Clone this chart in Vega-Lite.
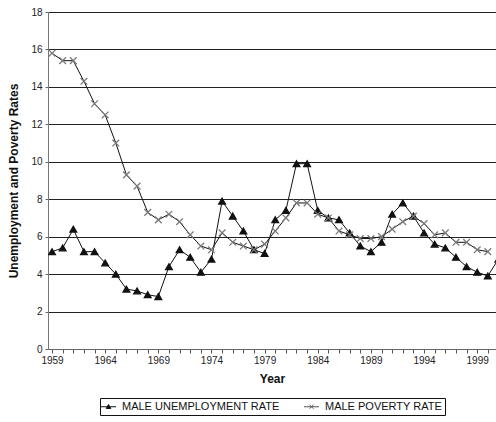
{
  "$schema": "https://vega.github.io/schema/vega-lite/v6.json",
  "width": 448,
  "height": 337,
  "autosize": {"type": "none"},
  "padding": {"left": 48, "top": 12, "right": 0, "bottom": 73},
  "background": "white",
  "config": {
    "view": {"stroke": null},
    "font": "Liberation Sans",
    "axis": {"labelFont": "Liberation Sans", "titleFont": "Liberation Sans", "labelColor": "#222", "titleColor": "#111"},
    "legend": {
      "orient": "none",
      "legendX": 52,
      "legendY": 386,
      "direction": "horizontal",
      "strokeColor": "#111",
      "padding": 3,
      "columnPadding": 22,
      "symbolSize": 100,
      "symbolStrokeWidth": 1,
      "labelOffset": 8,
      "labelFontSize": 11,
      "labelColor": "#111",
      "labelFont": "Liberation Sans"
    }
  },
  "data": {
    "values": [
      {"year": 1959, "series": "MALE UNEMPLOYMENT RATE", "rate": 5.2},
      {"year": 1960, "series": "MALE UNEMPLOYMENT RATE", "rate": 5.4},
      {"year": 1961, "series": "MALE UNEMPLOYMENT RATE", "rate": 6.4},
      {"year": 1962, "series": "MALE UNEMPLOYMENT RATE", "rate": 5.2},
      {"year": 1963, "series": "MALE UNEMPLOYMENT RATE", "rate": 5.2},
      {"year": 1964, "series": "MALE UNEMPLOYMENT RATE", "rate": 4.6},
      {"year": 1965, "series": "MALE UNEMPLOYMENT RATE", "rate": 4.0},
      {"year": 1966, "series": "MALE UNEMPLOYMENT RATE", "rate": 3.2},
      {"year": 1967, "series": "MALE UNEMPLOYMENT RATE", "rate": 3.1},
      {"year": 1968, "series": "MALE UNEMPLOYMENT RATE", "rate": 2.9},
      {"year": 1969, "series": "MALE UNEMPLOYMENT RATE", "rate": 2.8},
      {"year": 1970, "series": "MALE UNEMPLOYMENT RATE", "rate": 4.4},
      {"year": 1971, "series": "MALE UNEMPLOYMENT RATE", "rate": 5.3},
      {"year": 1972, "series": "MALE UNEMPLOYMENT RATE", "rate": 4.9},
      {"year": 1973, "series": "MALE UNEMPLOYMENT RATE", "rate": 4.1},
      {"year": 1974, "series": "MALE UNEMPLOYMENT RATE", "rate": 4.8},
      {"year": 1975, "series": "MALE UNEMPLOYMENT RATE", "rate": 7.9},
      {"year": 1976, "series": "MALE UNEMPLOYMENT RATE", "rate": 7.1},
      {"year": 1977, "series": "MALE UNEMPLOYMENT RATE", "rate": 6.3},
      {"year": 1978, "series": "MALE UNEMPLOYMENT RATE", "rate": 5.3},
      {"year": 1979, "series": "MALE UNEMPLOYMENT RATE", "rate": 5.1},
      {"year": 1980, "series": "MALE UNEMPLOYMENT RATE", "rate": 6.9},
      {"year": 1981, "series": "MALE UNEMPLOYMENT RATE", "rate": 7.4},
      {"year": 1982, "series": "MALE UNEMPLOYMENT RATE", "rate": 9.9},
      {"year": 1983, "series": "MALE UNEMPLOYMENT RATE", "rate": 9.9},
      {"year": 1984, "series": "MALE UNEMPLOYMENT RATE", "rate": 7.4},
      {"year": 1985, "series": "MALE UNEMPLOYMENT RATE", "rate": 7.0},
      {"year": 1986, "series": "MALE UNEMPLOYMENT RATE", "rate": 6.9},
      {"year": 1987, "series": "MALE UNEMPLOYMENT RATE", "rate": 6.2},
      {"year": 1988, "series": "MALE UNEMPLOYMENT RATE", "rate": 5.5},
      {"year": 1989, "series": "MALE UNEMPLOYMENT RATE", "rate": 5.2},
      {"year": 1990, "series": "MALE UNEMPLOYMENT RATE", "rate": 5.7},
      {"year": 1991, "series": "MALE UNEMPLOYMENT RATE", "rate": 7.2},
      {"year": 1992, "series": "MALE UNEMPLOYMENT RATE", "rate": 7.8},
      {"year": 1993, "series": "MALE UNEMPLOYMENT RATE", "rate": 7.1},
      {"year": 1994, "series": "MALE UNEMPLOYMENT RATE", "rate": 6.2},
      {"year": 1995, "series": "MALE UNEMPLOYMENT RATE", "rate": 5.6},
      {"year": 1996, "series": "MALE UNEMPLOYMENT RATE", "rate": 5.4},
      {"year": 1997, "series": "MALE UNEMPLOYMENT RATE", "rate": 4.9},
      {"year": 1998, "series": "MALE UNEMPLOYMENT RATE", "rate": 4.4},
      {"year": 1999, "series": "MALE UNEMPLOYMENT RATE", "rate": 4.1},
      {"year": 2000, "series": "MALE UNEMPLOYMENT RATE", "rate": 3.9},
      {"year": 2001, "series": "MALE UNEMPLOYMENT RATE", "rate": 4.8},
      {"year": 1959, "series": "MALE POVERTY RATE", "rate": 15.8},
      {"year": 1960, "series": "MALE POVERTY RATE", "rate": 15.4},
      {"year": 1961, "series": "MALE POVERTY RATE", "rate": 15.4},
      {"year": 1962, "series": "MALE POVERTY RATE", "rate": 14.3},
      {"year": 1963, "series": "MALE POVERTY RATE", "rate": 13.1},
      {"year": 1964, "series": "MALE POVERTY RATE", "rate": 12.5},
      {"year": 1965, "series": "MALE POVERTY RATE", "rate": 11.0},
      {"year": 1966, "series": "MALE POVERTY RATE", "rate": 9.3},
      {"year": 1967, "series": "MALE POVERTY RATE", "rate": 8.7},
      {"year": 1968, "series": "MALE POVERTY RATE", "rate": 7.3},
      {"year": 1969, "series": "MALE POVERTY RATE", "rate": 6.9},
      {"year": 1970, "series": "MALE POVERTY RATE", "rate": 7.2},
      {"year": 1971, "series": "MALE POVERTY RATE", "rate": 6.8},
      {"year": 1972, "series": "MALE POVERTY RATE", "rate": 6.1},
      {"year": 1973, "series": "MALE POVERTY RATE", "rate": 5.5},
      {"year": 1974, "series": "MALE POVERTY RATE", "rate": 5.3},
      {"year": 1975, "series": "MALE POVERTY RATE", "rate": 6.2},
      {"year": 1976, "series": "MALE POVERTY RATE", "rate": 5.7},
      {"year": 1977, "series": "MALE POVERTY RATE", "rate": 5.5},
      {"year": 1978, "series": "MALE POVERTY RATE", "rate": 5.3},
      {"year": 1979, "series": "MALE POVERTY RATE", "rate": 5.6},
      {"year": 1980, "series": "MALE POVERTY RATE", "rate": 6.3},
      {"year": 1981, "series": "MALE POVERTY RATE", "rate": 7.0},
      {"year": 1982, "series": "MALE POVERTY RATE", "rate": 7.8},
      {"year": 1983, "series": "MALE POVERTY RATE", "rate": 7.8},
      {"year": 1984, "series": "MALE POVERTY RATE", "rate": 7.2},
      {"year": 1985, "series": "MALE POVERTY RATE", "rate": 7.0},
      {"year": 1986, "series": "MALE POVERTY RATE", "rate": 6.3},
      {"year": 1987, "series": "MALE POVERTY RATE", "rate": 6.1},
      {"year": 1988, "series": "MALE POVERTY RATE", "rate": 5.9},
      {"year": 1989, "series": "MALE POVERTY RATE", "rate": 5.9},
      {"year": 1990, "series": "MALE POVERTY RATE", "rate": 6.0},
      {"year": 1991, "series": "MALE POVERTY RATE", "rate": 6.4},
      {"year": 1992, "series": "MALE POVERTY RATE", "rate": 6.8},
      {"year": 1993, "series": "MALE POVERTY RATE", "rate": 7.1},
      {"year": 1994, "series": "MALE POVERTY RATE", "rate": 6.7},
      {"year": 1995, "series": "MALE POVERTY RATE", "rate": 6.1},
      {"year": 1996, "series": "MALE POVERTY RATE", "rate": 6.2},
      {"year": 1997, "series": "MALE POVERTY RATE", "rate": 5.7},
      {"year": 1998, "series": "MALE POVERTY RATE", "rate": 5.7},
      {"year": 1999, "series": "MALE POVERTY RATE", "rate": 5.3},
      {"year": 2000, "series": "MALE POVERTY RATE", "rate": 5.2}
    ]
  },
  "encoding": {
    "x": {
      "field": "year",
      "type": "quantitative",
      "scale": {"domain": [1958.62, 2000.77], "nice": false, "zero": false},
      "axis": {
        "title": "Year",
        "titleFontSize": 12,
        "titleFontWeight": "bold",
        "titlePadding": 8,
        "values": [1959,1960,1961,1962,1963,1964,1965,1966,1967,1968,1969,1970,1971,1972,1973,1974,1975,1976,1977,1978,1979,1980,1981,1982,1983,1984,1985,1986,1987,1988,1989,1990,1991,1992,1993,1994,1995,1996,1997,1998,1999,2000],
        "labelExpr": "(datum.value - 1959) % 5 === 0 ? format(datum.value, 'd') : ''",
        "labelFontSize": 10,
        "labelPadding": 2,
        "labelOverlap": false,
        "labelFlush": false,
        "tickSize": 4,
        "tickColor": "#555",
        "domainColor": "#666",
        "grid": false
      }
    },
    "y": {
      "field": "rate",
      "type": "quantitative",
      "scale": {"domain": [0, 18], "nice": false},
      "axis": {
        "title": "Unemployment and Poverty Rates",
        "titleFontSize": 12,
        "titleFontWeight": "bold",
        "titlePadding": 10,
        "values": [0,2,4,6,8,10,12,14,16,18],
        "labelFontSize": 10,
        "labelPadding": 3,
        "tickSize": 3,
        "tickColor": "#666",
        "domainColor": "#777",
        "grid": true,
        "gridColor": "#222",
        "gridWidth": 1
      }
    }
  },
  "resolve": {"scale": {"shape": "independent", "fill": "independent", "stroke": "independent"}},
  "layer": [
    {
      "mark": {"type": "line", "color": "#111", "strokeWidth": 1, "clip": true},
      "encoding": {"detail": {"field": "series"}}
    },
    {
      "mark": {"type": "point", "filled": false, "strokeWidth": 1.3, "size": 45, "opacity": 1, "clip": true},
      "encoding": {
        "shape": {
          "field": "series",
          "type": "nominal",
          "scale": {"domain": ["MALE UNEMPLOYMENT RATE", "MALE POVERTY RATE"], "range": ["triangle-up", "M-1,-1L1,1M-1,1L1,-1"]},
          "legend": null
        },
        "fill": {
          "field": "series",
          "type": "nominal",
          "scale": {"domain": ["MALE UNEMPLOYMENT RATE", "MALE POVERTY RATE"], "range": ["#111111", "#7a7a7a"]},
          "legend": null
        },
        "stroke": {
          "field": "series",
          "type": "nominal",
          "scale": {"domain": ["MALE UNEMPLOYMENT RATE", "MALE POVERTY RATE"], "range": ["#111111", "#7a7a7a"]},
          "legend": null
        }
      }
    },
    {
      "transform": [{"filter": "datum.year < 0"}],
      "mark": {"type": "point", "filled": false, "strokeWidth": 1, "opacity": 1},
      "encoding": {
        "shape": {
          "field": "series",
          "type": "nominal",
          "scale": {"domain": ["MALE UNEMPLOYMENT RATE", "MALE POVERTY RATE"], "range": ["M-1.5,0H1.5M-0.45,0.35L0,-0.45L0.45,0.35Z", "M-1.5,0H1.5M-0.4,-0.4L0.4,0.4M-0.4,0.4L0.4,-0.4"]},
          "legend": {"title": null}
        },
        "fill": {
          "field": "series",
          "type": "nominal",
          "scale": {"domain": ["MALE UNEMPLOYMENT RATE", "MALE POVERTY RATE"], "range": ["#111111", "#7a7a7a"]},
          "legend": {"title": null}
        },
        "stroke": {
          "field": "series",
          "type": "nominal",
          "scale": {"domain": ["MALE UNEMPLOYMENT RATE", "MALE POVERTY RATE"], "range": ["#111111", "#555555"]},
          "legend": {"title": null}
        }
      }
    }
  ]
}
